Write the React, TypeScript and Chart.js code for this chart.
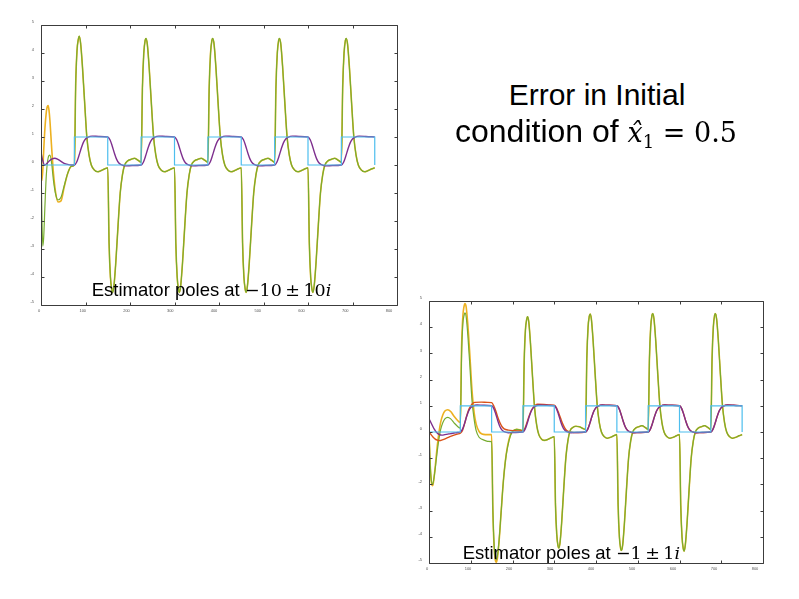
import React, { useEffect, useRef } from 'react';
import { Chart, registerables } from 'chart.js';

Chart.register(...registerables);

// ---------- axes ----------
const X_TICKS = [0, 100, 200, 300, 400, 500, 600, 700, 800];
const Y_TICKS = [-5, -4, -3, -2, -1, 0, 1, 2, 3, 4, 5];

// ---------- reference (square wave) ----------
const CYAN_T = [0, 75, 75, 150, 150, 225, 225, 300, 300, 375, 375, 450, 450, 525, 525, 600, 600, 675, 675, 750, 750];
const CYAN_V = [0, 0, 1, 1, 0, 0, 1, 1, 0, 0, 1, 1, 0, 0, 1, 1, 0, 0, 1, 1, 0];

// ---------- control signal (green) time grid ----------
const T_G = [
  0, 2, 4, 6, 9, 12, 16, 20, 24, 28, 33, 38, 45, 52, 60, 68,
  75, 78, 81, 84, 86, 89, 93, 98, 103, 108, 113, 120, 127, 135, 143,
  150, 153, 156, 159, 161, 164, 168, 173, 178, 183, 188, 195, 202, 210, 218,
  225, 228, 231, 234, 236, 239, 243, 248, 253, 258, 263, 270, 277, 285, 293,
  300, 303, 306, 309, 311, 314, 318, 323, 328, 333, 338, 345, 352, 360, 368,
  375, 378, 381, 384, 386, 389, 393, 398, 403, 408, 413, 420, 427, 435, 443,
  450, 453, 456, 459, 461, 464, 468, 473, 478, 483, 488, 495, 502, 510, 518,
  525, 528, 531, 534, 536, 539, 543, 548, 553, 558, 563, 570, 577, 585, 593,
  600, 603, 606, 609, 611, 614, 618, 623, 628, 633, 638, 645, 652, 660, 668,
  675, 678, 681, 684, 686, 689, 693, 698, 703, 708, 713, 720, 727, 735, 743,
  750,
];

// plot 1 (poles -10 ± 10i) green
const G1 = [
  0.1, -1.8, -2.9, -2.6, -1.4, -0.35, 0.25, 0.35, 0.05, -0.55, -1.05, -1.25, -1.15, -0.75, -0.3, -0.05,
  0.0, 2.9, 4.1, 4.5, 4.6, 4.35, 3.55, 2.25, 1.0, 0.35, 0.0, -0.18, -0.24, -0.2, -0.14,
  -0.1, -2.8, -4.0, -4.45, -4.55, -4.3, -3.5, -2.2, -1.0, -0.35, 0.0, 0.15, 0.2, 0.24, 0.17,
  0.1, 2.8, 4.0, 4.45, 4.52, 4.3, 3.5, 2.2, 1.0, 0.35, 0.0, -0.18, -0.24, -0.2, -0.14,
  -0.1, -2.8, -4.0, -4.45, -4.55, -4.3, -3.5, -2.2, -1.0, -0.35, 0.0, 0.15, 0.2, 0.24, 0.17,
  0.1, 2.8, 4.0, 4.45, 4.52, 4.3, 3.5, 2.2, 1.0, 0.35, 0.0, -0.18, -0.24, -0.2, -0.14,
  -0.1, -2.8, -4.0, -4.45, -4.55, -4.3, -3.5, -2.2, -1.0, -0.35, 0.0, 0.15, 0.2, 0.24, 0.17,
  0.1, 2.8, 4.0, 4.45, 4.52, 4.3, 3.5, 2.2, 1.0, 0.35, 0.0, -0.18, -0.24, -0.2, -0.14,
  -0.1, -2.8, -4.0, -4.45, -4.55, -4.3, -3.5, -2.2, -1.0, -0.35, 0.0, 0.15, 0.2, 0.24, 0.17,
  0.1, 2.8, 4.0, 4.45, 4.52, 4.3, 3.5, 2.2, 1.0, 0.35, 0.0, -0.18, -0.24, -0.2, -0.14,
  -0.1,
];

// plot 2 (poles -1 ± 1i) green
const G2 = [
  0.0, -0.9, -1.55, -1.9, -2.0, -1.75, -1.25, -0.7, -0.25, 0.1, 0.35, 0.5, 0.56, 0.5, 0.35, 0.22,
  0.15, 2.9, 4.1, 4.45, 4.55, 4.4, 3.7, 2.5, 1.2, 0.5, 0.05, -0.2, -0.28, -0.33, -0.36,
  -0.37, -3.0, -4.3, -4.8, -4.87, -4.7, -4.1, -3.0, -1.9, -1.1, -0.6, -0.15, 0.05, 0.1, 0.08,
  0.05, 2.7, 3.9, 4.3, 4.4, 4.2, 3.4, 2.1, 0.9, 0.25, -0.1, -0.28, -0.32, -0.28, -0.22,
  -0.18, -2.8, -3.9, -4.35, -4.43, -4.2, -3.4, -2.1, -0.95, -0.3, 0.05, 0.18, 0.22, 0.2, 0.14,
  0.1, 2.8, 4.0, 4.42, 4.5, 4.3, 3.5, 2.2, 1.0, 0.35, 0.0, -0.18, -0.24, -0.2, -0.14,
  -0.1, -2.8, -4.0, -4.45, -4.52, -4.3, -3.5, -2.2, -1.0, -0.35, 0.0, 0.15, 0.2, 0.24, 0.17,
  0.1, 2.8, 4.0, 4.45, 4.52, 4.3, 3.5, 2.2, 1.0, 0.35, 0.0, -0.18, -0.24, -0.2, -0.14,
  -0.1, -2.8, -4.0, -4.45, -4.55, -4.3, -3.5, -2.2, -1.0, -0.35, 0.0, 0.15, 0.2, 0.24, 0.17,
  0.1, 2.8, 4.0, 4.45, 4.52, 4.3, 3.5, 2.2, 1.0, 0.35, 0.0, -0.18, -0.24, -0.2, -0.14,
  -0.1,
];

// estimated control (yellow) where it differs from green; afterwards it coincides with green
const Y1_T = [0, 2, 4, 6, 9, 12, 14, 16, 18, 20, 24, 28, 33, 38, 45, 52];
const Y1_V = [-0.3, -0.55, -0.2, 0.5, 1.35, 1.9, 2.08, 2.12, 1.95, 1.6, 0.6, -0.3, -1.0, -1.32, -1.28, -0.8];
const Y1_JOIN = 60;

const Y2_T = [
  0, 2, 4, 6, 9, 12, 16, 20, 24, 28, 33, 38, 45, 52, 60, 68, 75, 78, 81, 84,
  86, 89, 93, 98, 103, 108, 113, 120, 127, 135, 143, 150, 153, 156, 159, 161, 164, 168, 173, 178,
  183, 188, 195,
];
const Y2_V = [
  0.05, -0.9, -1.6, -1.95, -2.05, -1.75, -1.15, -0.5, 0.0, 0.38, 0.65, 0.8, 0.85, 0.78, 0.6, 0.45, 0.36, 3.2, 4.4, 4.8,
  4.9, 4.78, 4.1, 2.9, 1.6, 0.75, 0.3, 0.02, -0.08, -0.1, -0.1, -0.1, -3.0, -4.4, -4.9, -4.97, -4.8, -4.15, -3.0, -1.9,
  -1.1, -0.55, -0.1,
];
const Y2_JOIN = 202;

// output (purple)
const T_P = [
  0, 4, 8, 13, 19, 25, 31, 38, 45, 52, 60, 68,
  75, 80, 85, 90, 95, 100, 105, 115, 130,
  150, 155, 160, 165, 170, 175, 180, 190, 205,
  225, 230, 235, 240, 245, 250, 255, 265, 280,
  300, 305, 310, 315, 320, 325, 330, 340, 355,
  375, 380, 385, 390, 395, 400, 405, 415, 430,
  450, 455, 460, 465, 470, 475, 480, 490, 505,
  525, 530, 535, 540, 545, 550, 555, 565, 580,
  600, 605, 610, 615, 620, 625, 630, 640, 655,
  675, 680, 685, 690, 695, 700, 705, 715, 730,
  750,
];
const P1 = [
  0.45, 0.15, 0.0, 0.05, 0.15, 0.22, 0.24, 0.2, 0.13, 0.06, 0.02, 0.0,
  0.0, 0.1, 0.32, 0.58, 0.8, 0.93, 0.99, 1.03, 1.02,
  1.0, 0.9, 0.68, 0.42, 0.2, 0.07, 0.01, -0.03, -0.02,
  0.0, 0.1, 0.32, 0.58, 0.8, 0.93, 0.99, 1.03, 1.02,
  1.0, 0.9, 0.68, 0.42, 0.2, 0.07, 0.01, -0.03, -0.02,
  0.0, 0.1, 0.32, 0.58, 0.8, 0.93, 0.99, 1.03, 1.02,
  1.0, 0.9, 0.68, 0.42, 0.2, 0.07, 0.01, -0.03, -0.02,
  0.0, 0.1, 0.32, 0.58, 0.8, 0.93, 0.99, 1.03, 1.02,
  1.0, 0.9, 0.68, 0.42, 0.2, 0.07, 0.01, -0.03, -0.02,
  0.0, 0.1, 0.32, 0.58, 0.8, 0.93, 0.99, 1.03, 1.02,
  1.0,
];
const P2 = [
  0.5, 0.38, 0.25, 0.1, -0.03, -0.1, -0.12, -0.1, -0.08, -0.06, -0.04, -0.02,
  0.0, 0.1, 0.32, 0.58, 0.8, 0.93, 0.99, 1.03, 1.02,
  1.0, 0.9, 0.68, 0.42, 0.2, 0.07, 0.01, -0.03, -0.02,
  0.0, 0.1, 0.32, 0.58, 0.8, 0.93, 0.99, 1.03, 1.02,
  1.0, 0.9, 0.68, 0.42, 0.2, 0.07, 0.01, -0.03, -0.02,
  0.0, 0.1, 0.32, 0.58, 0.8, 0.93, 0.99, 1.03, 1.02,
  1.0, 0.9, 0.68, 0.42, 0.2, 0.07, 0.01, -0.03, -0.02,
  0.0, 0.1, 0.32, 0.58, 0.8, 0.93, 0.99, 1.03, 1.02,
  1.0, 0.9, 0.68, 0.42, 0.2, 0.07, 0.01, -0.03, -0.02,
  0.0, 0.1, 0.32, 0.58, 0.8, 0.93, 0.99, 1.03, 1.02,
  1.0,
];

// estimated output (red) in plot 2 where it differs; afterwards it coincides with purple
const R2_T = [
  0, 5, 10, 15, 20, 26, 32, 40, 50, 60, 68, 75, 80, 85, 90, 95, 100, 105, 110, 125,
  140, 150, 155, 160, 165, 170, 175, 180, 190, 205, 220, 225, 230, 235, 240, 245, 250, 255, 260, 275,
  290, 300, 305, 310, 315, 320, 325, 330, 340,
];
const R2_V = [
  0.02, -0.1, -0.2, -0.27, -0.31, -0.33, -0.3, -0.25, -0.18, -0.12, -0.08, -0.05, 0.05, 0.3, 0.6, 0.85, 1.0, 1.1, 1.13, 1.14,
  1.13, 1.12, 1.0, 0.8, 0.55, 0.35, 0.2, 0.12, 0.07, 0.05, 0.04, 0.04, 0.15, 0.38, 0.62, 0.82, 0.95, 1.03, 1.06, 1.05,
  1.03, 1.02, 0.93, 0.75, 0.53, 0.32, 0.16, 0.06, 0.0,
];
const R2_JOIN = 341;

// ---------- colours ----------
const C_YELLOW = '#EDB120';
const C_GREEN = '#77AC30';
const C_PURPLE = '#7E2F8E';
const C_CYAN = '#4DBEEE';
const C_RED = '#D95319';

type P = { x: number; y: number };
const pts = (t: number[], v: number[]): P[] => t.map((x, i) => ({ x, y: v[i] }));

const framePlugin = {
  id: 'octaveFrame',
  afterDraw(chart: any) {
    const { ctx, chartArea: a, scales } = chart;
    const xs = scales.x;
    const ys = scales.y;
    ctx.save();
    ctx.strokeStyle = '#3c3c3c';
    ctx.lineWidth = 1;
    const L = Math.round(a.left) + 0.5;
    const R = Math.round(a.right) + 0.5;
    const T = Math.round(a.top) + 0.5;
    const B = Math.round(a.bottom) + 0.5;
    ctx.beginPath();
    ctx.rect(L, T, R - L, B - T);
    X_TICKS.forEach((v) => {
      const px = Math.round(xs.getPixelForValue(v)) + 0.5;
      ctx.moveTo(px, B);
      ctx.lineTo(px, B - 3);
      ctx.moveTo(px, T);
      ctx.lineTo(px, T + 3);
    });
    Y_TICKS.forEach((v) => {
      const py = Math.round(ys.getPixelForValue(v)) + 0.5;
      ctx.moveTo(L, py);
      ctx.lineTo(L + 3, py);
      ctx.moveTo(R, py);
      ctx.lineTo(R - 3, py);
    });
    ctx.stroke();

    ctx.fillStyle = '#555';
    ctx.font = '4px "Liberation Sans", Arial, sans-serif';
    ctx.textAlign = 'center';
    ctx.textBaseline = 'middle';
    X_TICKS.forEach((v) => {
      const px = xs.getPixelForValue(v) - 2 - (6 * v) / 800;
      ctx.fillText(String(v), px, a.bottom + 6);
    });
    ctx.textAlign = 'right';
    Y_TICKS.forEach((v) => {
      const py = ys.getPixelForValue(v) - 3;
      ctx.fillText(String(v), a.left - 7, py);
    });
    ctx.restore();
  },
};

function line(data: P[], color: string, width: number, order: number, smooth = true) {
  return {
    data,
    borderColor: color,
    backgroundColor: color,
    borderWidth: width,
    pointRadius: 0,
    fill: false,
    order,
    cubicInterpolationMode: smooth ? 'monotone' : 'default',
    tension: 0,
  };
}

function makeChart(canvas: HTMLCanvasElement, datasets: any[], pad: any) {
  return new Chart(canvas, {
    type: 'line',
    data: { datasets },
    options: {
      responsive: false,
      animation: false,
      events: [],
      layout: { padding: pad },
      plugins: { legend: { display: false }, tooltip: { enabled: false } },
      scales: {
        x: { type: 'linear', min: 0, max: 800, display: false },
        y: { type: 'linear', min: -5, max: 5, display: false },
      },
    } as any,
    plugins: [framePlugin],
  });
}

export default function App() {
  const c1 = useRef<HTMLCanvasElement>(null);
  const c2 = useRef<HTMLCanvasElement>(null);

  useEffect(() => {
    const green1 = pts(T_G, G1);
    const yellow1 = [...pts(Y1_T, Y1_V), ...green1.filter((p) => p.x >= Y1_JOIN)];
    const green2 = pts(T_G, G2);
    const yellow2 = [...pts(Y2_T, Y2_V), ...green2.filter((p) => p.x >= Y2_JOIN)];
    const purple1 = pts(T_P, P1);
    const purple2 = pts(T_P, P2);
    const red2 = [...pts(R2_T, R2_V), ...purple2.filter((p) => p.x >= R2_JOIN)];
    const cyan = pts(CYAN_T, CYAN_V);

    const ch1 = makeChart(
      c1.current!,
      [
        line(yellow1, C_YELLOW, 1.6, 5),
        line(green1, C_GREEN, 1.2, 4),
        line(purple1, C_PURPLE, 1.4, 2),
        line(cyan, C_CYAN, 1.2, 1, false),
      ],
      { left: 41, top: 25, right: 23, bottom: 25 }
    );
    const ch2 = makeChart(
      c2.current!,
      [
        line(yellow2, C_YELLOW, 1.6, 5),
        line(green2, C_GREEN, 1.2, 4),
        line(red2, C_RED, 1.4, 3),
        line(purple2, C_PURPLE, 1.4, 2),
        line(cyan, C_CYAN, 1.2, 1, false),
      ],
      { left: 29, top: 21, right: 36, bottom: 17 }
    );
    return () => {
      ch1.destroy();
      ch2.destroy();
    };
  }, []);

  const sans = '"Liberation Sans", Arial, Helvetica, sans-serif';
  const serif = '"DejaVu Serif", "Liberation Serif", serif';

  return (
    <div style={{ position: 'fixed', left: 0, top: 0, width: 799, height: 599, background: '#fff', overflow: 'hidden' }}>
      <canvas ref={c1} width={420} height={330} style={{ position: 'absolute', left: 0, top: 0, width: 420, height: 330 }} />
      <canvas ref={c2} width={399} height={300} style={{ position: 'absolute', left: 400, top: 280, width: 399, height: 300 }} />

      <div style={{ position: 'absolute', left: 397, width: 400, top: 94.6, textAlign: 'center', fontFamily: sans, fontSize: 30, lineHeight: 0, whiteSpace: 'pre', color: '#000' }}>
        Error in Initial
      </div>
      <div style={{ position: 'absolute', left: 396, width: 400, top: 130.6, textAlign: 'center', fontFamily: sans, fontSize: 32, lineHeight: 0, whiteSpace: 'pre', color: '#000' }}>
        {'condition of '}
        <span style={{ fontFamily: serif, fontSize: 27 }}>
          <span style={{ fontStyle: 'italic' }}>{'x\u0302'}</span>
          <span style={{ fontSize: 18, position: 'relative', top: 6 }}>1</span>
          {' = 0.5'}
        </span>
      </div>

      <div style={{ position: 'absolute', left: 91.7, top: 290.3, fontFamily: sans, fontSize: 18.5, lineHeight: 0, whiteSpace: 'pre', color: '#000' }}>
        {'Estimator poles at '}
        <span style={{ fontFamily: serif, fontSize: 17.5 }}>
          {'\u221210\u2009\u00b1\u200910'}
          <span style={{ fontStyle: 'italic' }}>i</span>
        </span>
      </div>
      <div style={{ position: 'absolute', left: 462.7, top: 552.6, fontFamily: sans, fontSize: 18.5, lineHeight: 0, whiteSpace: 'pre', color: '#000' }}>
        {'Estimator poles at '}
        <span style={{ fontFamily: serif, fontSize: 17.5 }}>
          {'\u22121\u2009\u00b1\u20091'}
          <span style={{ fontStyle: 'italic' }}>i</span>
        </span>
      </div>
    </div>
  );
}
